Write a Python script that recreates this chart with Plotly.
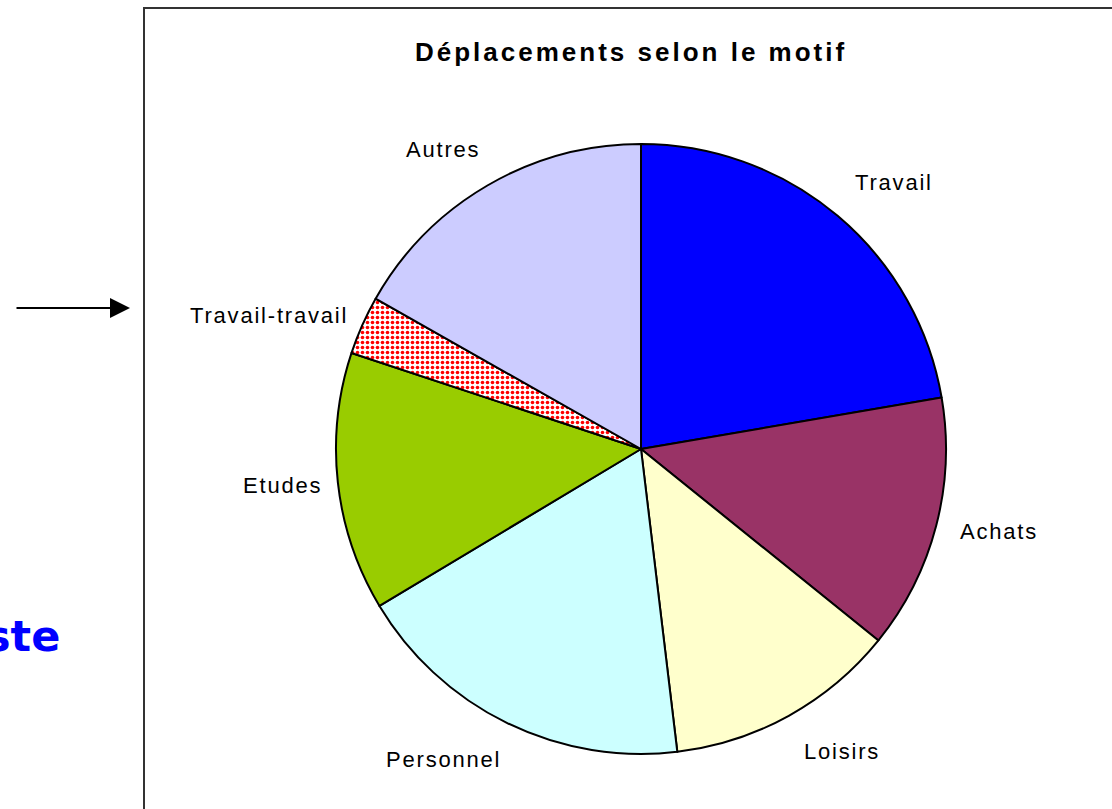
import math
import plotly.graph_objects as go

W, H = 1112, 809

# slices, clockwise from 12 o'clock
motifs = ["Travail", "Achats", "Loisirs", "Personnel", "Etudes", "Travail-travail", "Autres"]
parts = [22.3, 13.5, 12.3, 18.3, 13.7, 3.1, 16.8]
couleurs = ["#0000FF", "#993366", "#FFFFCC", "#CCFFFF", "#99CC00", "#FFFFFF", "#CCCCFF"]
motifs_pattern = ["", "", "", "", "", ".", ""]

titre = "Déplacements selon le motif"

# pie geometry in pixels
cx, cy, R = 641, 449, 305


def px_x(x):
    return x / W


def px_y(y):
    return 1 - y / H


fig = go.Figure()
fig.add_trace(go.Pie(
    labels=motifs, values=parts, sort=False, direction="clockwise", rotation=0,
    marker=dict(
        colors=couleurs,
        line=dict(color="black", width=2),
        pattern=dict(shape=motifs_pattern, fgcolor="#FF0000", bgcolor="#FFFFFF",
                     size=5, solidity=0.4),
    ),
    textinfo="none", hoverinfo="label+percent", showlegend=False,
    domain=dict(x=[px_x(cx - R), px_x(cx + R)], y=[px_y(cy + R), px_y(cy - R)]),
))

# labels around the pie, placed from each slice's middle angle
annots = []
total = sum(parts)
cum = 0
rx_lab, ry_lab = 1.06 * R, 1.08 * R
for nom, v in zip(motifs, parts):
    mid = (cum + v / 2) / total * 2 * math.pi
    cum += v
    s, c = math.sin(mid), math.cos(mid)
    x = cx + 4 + rx_lab * s
    y = cy - ry_lab * c
    xa = "left" if s > 0.1 else ("right" if s < -0.1 else "center")
    ya = "bottom" if c > 0.45 else ("top" if c < -0.45 else "middle")
    annots.append(dict(
        x=px_x(x), y=px_y(y), xref="paper", yref="paper", xanchor=xa, yanchor=ya,
        text=f'<span style="letter-spacing:1.8px">{nom}</span>', showarrow=False,
        font=dict(family="Liberation Sans, Arial", size=22, color="black"),
    ))

annots.append(dict(
    x=px_x(631), y=px_y(52), xref="paper", yref="paper", xanchor="center", yanchor="middle",
    text=f'<b><span style="letter-spacing:3px">{titre}</span></b>', showarrow=False,
    font=dict(family="Liberation Sans, Arial", size=26, color="black"),
))

# arrow pointing at the chart frame
annots.append(dict(
    x=px_x(130), y=px_y(308), xref="paper", yref="paper", ax=-115, ay=0,
    text="", showarrow=True, arrowhead=2, arrowsize=2, arrowwidth=2, arrowcolor="black",
))

# cut-off slide text on the left
annots.append(dict(
    x=px_x(62), y=px_y(636), xref="paper", yref="paper", xanchor="right", yanchor="middle",
    text="<b>ste</b>", showarrow=False,
    font=dict(family="DejaVu Sans", size=43, color="#0000FF"),
))

fig.update_layout(
    width=W, height=H, margin=dict(l=0, r=0, t=0, b=0),
    paper_bgcolor="white", plot_bgcolor="white",
    annotations=annots,
    shapes=[dict(type="rect", xref="paper", yref="paper",
                 x0=px_x(144), x1=1.02, y0=-0.02, y1=px_y(8),
                 line=dict(color="#333333", width=2))],
)

fig.write_html("out.html", config={"displayModeBar": False},
               post_script="document.body.style.margin='0';")
